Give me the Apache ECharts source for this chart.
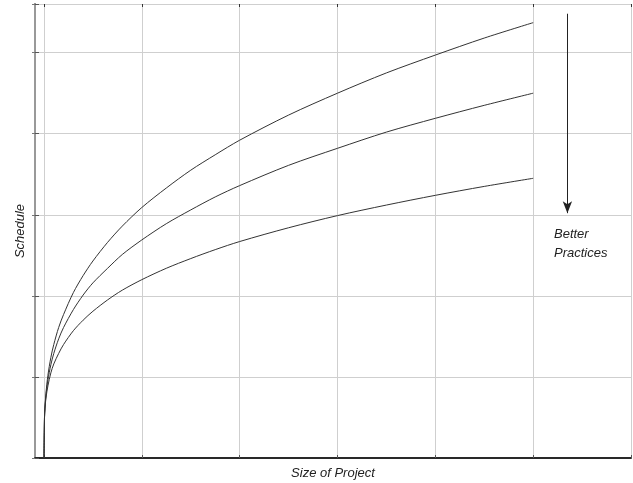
<!DOCTYPE html>
<html><head><meta charset="utf-8">
<script src="https://cdn.jsdelivr.net/npm/echarts@6/dist/echarts.min.js"></script>
<style>html,body{margin:0;padding:0;background:#fff}#c{width:633px;height:483px}</style>
</head><body><div id="c"></div>
<script>
// Size of project (x, in gridline units)
const sizes = [0, 0.005, 0.01, 0.02, 0.04, 0.07, 0.1, 0.15, 0.2, 0.3, 0.4, 0.5, 0.65, 0.8, 1, 1.25, 1.5, 1.75, 2, 2.5, 3, 3.5, 4, 4.5, 5];
// Schedule (y, in gridline units) for the three practice levels
const scheduleWorst = [0, 0.50, 0.63, 0.80, 1.02, 1.24, 1.40, 1.61, 1.77, 2.04, 2.25, 2.43, 2.66, 2.86, 3.09, 3.33, 3.55, 3.74, 3.92, 4.23, 4.50, 4.75, 4.97, 5.18, 5.37];
const scheduleMid   = [0, 0.49, 0.62, 0.77, 0.96, 1.15, 1.29, 1.47, 1.61, 1.83, 2.01, 2.16, 2.34, 2.51, 2.69, 2.89, 3.06, 3.22, 3.36, 3.61, 3.82, 4.02, 4.19, 4.35, 4.50];
const scheduleBest  = [0, 0.50, 0.61, 0.74, 0.89, 1.05, 1.16, 1.29, 1.40, 1.57, 1.70, 1.81, 1.95, 2.07, 2.20, 2.34, 2.46, 2.57, 2.67, 2.84, 2.99, 3.12, 3.24, 3.35, 3.45];
// Arrow (data units)
const arrowX = 5.35, arrowTop = 5.48, arrowBottom = 3.02;

const zip = ys => sizes.map((x, i) => [x, ys[i]]);
const font = '"Liberation Sans", Arial, sans-serif';
const curveStyle = { color: '#333', width: 1 };

const chart = echarts.init(document.getElementById('c'), null, { renderer: 'canvas' });
chart.setOption({
  animation: false,
  backgroundColor: '#fff',
  grid: [
    { left: 35, right: 2, top: 4, bottom: 25, outerBoundsMode: 'none', containLabel: false },
    { left: 44, right: 2, top: 4, bottom: 25, outerBoundsMode: 'none', containLabel: false }
  ],
  xAxis: [
    { gridIndex: 0, type: 'value', min: 0, max: 1, position: 'bottom',
      axisLine: { show: true, lineStyle: { color: '#777', width: 2 } },
      axisTick: { show: false }, axisLabel: { show: false }, splitLine: { show: false },
      name: 'Size of Project', nameLocation: 'middle', nameGap: 9,
      nameTextStyle: { fontFamily: font, fontStyle: 'italic', fontSize: 13, color: '#222' } },
    { gridIndex: 0, type: 'value', min: 0, max: 1, position: 'top',
      axisLine: { show: true, lineStyle: { color: '#111', width: 1.5 } },
      axisTick: { show: false }, axisLabel: { show: false }, splitLine: { show: false } },
    { gridIndex: 1, type: 'value', min: 0, max: 6, interval: 1, position: 'bottom',
      axisLine: { show: false }, axisLabel: { show: false },
      axisTick: { show: true, inside: true, length: 3, lineStyle: { color: '#555' } },
      splitLine: { show: true, lineStyle: { color: '#cfcfcf', width: 1 } } },
    { gridIndex: 1, type: 'value', min: 0, max: 6, interval: 1, position: 'top',
      axisLine: { show: false }, axisLabel: { show: false },
      axisTick: { show: true, inside: true, length: 3, lineStyle: { color: '#333' } },
      splitLine: { show: false } }
  ],
  yAxis: [
    { gridIndex: 0, type: 'value', min: 0, max: 5.6, interval: 1, position: 'left',
      axisLine: { show: true, lineStyle: { color: '#666', width: 2 } },
      axisTick: { show: false },
      axisLabel: { show: false },
      splitLine: { show: true, lineStyle: { color: '#cfcfcf', width: 1 } },
      name: 'Schedule', nameLocation: 'middle', nameGap: 8,
      nameTextStyle: { fontFamily: font, fontStyle: 'italic', fontSize: 13, color: '#222' } },
    { gridIndex: 0, type: 'value', min: 0, max: 5.6, interval: 1, position: 'right',
      axisLine: { show: true, lineStyle: { color: '#999', width: 2 } },
      axisTick: { show: true, inside: true, length: 3, lineStyle: { color: '#777' } },
      axisLabel: { show: false }, splitLine: { show: false } },
    { gridIndex: 1, type: 'value', min: 0, max: 5.6, show: false },
    { gridIndex: 0, type: 'value', min: 0, max: 5.6, interval: 1, position: 'left',
      axisLine: { show: false }, axisLabel: { show: false }, splitLine: { show: false },
      axisTick: { show: true, inside: true, length: 4, lineStyle: { color: '#555', width: 1 } } }
  ],
  series: [
    { type: 'line', xAxisIndex: 2, yAxisIndex: 2, data: zip(scheduleWorst), showSymbol: false,
      smooth: 0.3, lineStyle: curveStyle, silent: true,
      markLine: {
        silent: true, symbol: ['none', 'arrow'], symbolSize: [7, 12],
        lineStyle: { color: '#222', width: 1, type: 'solid' },
        label: { show: false },
        data: [[{ coord: [arrowX, arrowTop] }, { coord: [arrowX, arrowBottom] }]]
      } },
    { type: 'line', xAxisIndex: 2, yAxisIndex: 2, data: zip(scheduleMid), showSymbol: false,
      smooth: 0.3, lineStyle: curveStyle, silent: true },
    { type: 'line', xAxisIndex: 2, yAxisIndex: 2, data: zip(scheduleBest), showSymbol: false,
      smooth: 0.3, lineStyle: curveStyle, silent: true }
  ],
  graphic: [
    { type: 'text', left: 554, top: 225,
      style: { text: 'Better\nPractices', font: 'italic 13px ' + font, fill: '#222', lineHeight: 19 } }
  ]
});
</script>
</body></html>
